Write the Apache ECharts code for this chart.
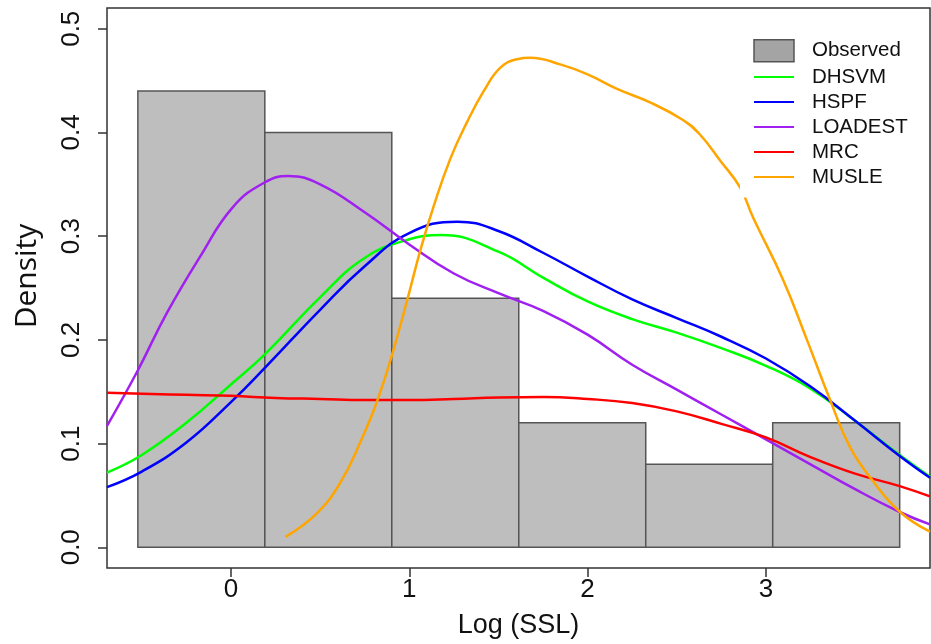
<!DOCTYPE html>
<html>
<head>
<meta charset="utf-8">
<script src="https://cdn.jsdelivr.net/npm/echarts@6/dist/echarts.min.js"></script>
<style>
  html, body { margin: 0; padding: 0; background: #fff; }
  #chart { width: 931px; height: 644px; }
</style>
</head>
<body>
<div id="chart"></div>
<script>
// histogram of observed log(SSL)
const binEdges = [-0.522, 0.19, 0.902, 1.614, 2.326, 3.038, 3.75];
const observed = [0.44, 0.40, 0.24, 0.12, 0.08, 0.12];

// density curves, [log SSL, density]
const dhsvm = [[-0.695,0.072],[-0.5,0.089],[-0.25,0.120],[0,0.157],[0.19,0.186],[0.5,0.241],[0.75,0.279],
  [1.0,0.297],[1.18,0.301],[1.5,0.285],[1.75,0.260],[2.0,0.237],[2.25,0.220],[2.5,0.207],[2.75,0.192],
  [3.0,0.175],[3.25,0.153],[3.5,0.122],[3.75,0.089],[3.92,0.068]];
const hspf = [[-0.695,0.058],[-0.5,0.073],[-0.25,0.101],[0,0.140],[0.19,0.173],[0.5,0.229],[0.75,0.271],
  [1.0,0.303],[1.27,0.314],[1.5,0.305],[1.75,0.284],[2.0,0.261],[2.25,0.239],[2.5,0.221],[2.75,0.203],
  [3.0,0.182],[3.25,0.155],[3.5,0.122],[3.75,0.088],[3.92,0.067]];
const loadest = [[-0.695,0.117],[-0.527,0.169],[-0.359,0.226],[-0.174,0.280],[0.011,0.328],[0.191,0.352],
  [0.32,0.358],[0.5,0.350],[0.75,0.323],[1.0,0.292],[1.25,0.264],[1.5,0.245],[1.75,0.228],[2.0,0.205],
  [2.25,0.176],[2.5,0.152],[2.75,0.128],[3.0,0.104],[3.25,0.080],[3.5,0.056],[3.75,0.034],[3.92,0.022]];
const mrc = [[-0.695,0.149],[-0.25,0.147],[0,0.146],[0.25,0.144],[0.5,0.143],[0.75,0.142],[1.0,0.142],
  [1.25,0.143],[1.5,0.1445],[1.75,0.145],[2.0,0.143],[2.25,0.139],[2.5,0.131],[2.75,0.119],[3.0,0.106],
  [3.25,0.087],[3.5,0.071],[3.75,0.059],[3.92,0.049]];
const musle = [[0.306,0.010],[0.483,0.033],[0.614,0.0625],[0.726,0.1015],[0.82,0.141],[0.904,0.186],[0.988,0.238],
  [1.063,0.287],[1.137,0.329],[1.231,0.375],[1.324,0.410],[1.418,0.440],[1.511,0.4625],[1.605,0.4706],
  [1.679,0.472],[1.847,0.4656],[2.0,0.456],[2.165,0.442],[2.35,0.429],[2.535,0.412],[2.63,0.398],[2.743,0.373],
  [2.855,0.347],[2.928,0.318],[3.096,0.258],[3.23,0.200],[3.36,0.142],[3.47,0.097],[3.595,0.065],
  [3.752,0.034],[3.92,0.015]];

const xTicks = [0, 1, 2, 3];
const yTicks = [0, 0.1, 0.2, 0.3, 0.4, 0.5];

const histData = observed.map((h, i) => [binEdges[i], binEdges[i + 1], h]);

function curve(name, data, color) {
  return {
    name: name,
    type: 'line',
    data: data,
    smooth: 0.45,
    showSymbol: false,
    symbol: 'none',
    lineStyle: { color: color, width: 2.5 },
    itemStyle: { color: color },
    z: 3
  };
}

// legend entry for a line: hide the marker, keep the stroke
const lineItem = name => ({ name: name, itemStyle: { color: 'transparent', borderWidth: 0, opacity: 0 } });

const chart = echarts.init(document.getElementById('chart'));
chart.setOption({
  animation: false,
  grid: {
    left: 107, right: 1, top: 8, bottom: 75,
    show: true, borderColor: '#333', borderWidth: 1.5, backgroundColor: 'transparent'
  },
  legend: {
    orient: 'vertical',
    left: 740, top: 29,
    padding: [10, 10, 10, 13],
    backgroundColor: '#fff',
    itemWidth: 40, itemHeight: 22, itemGap: 4,
    textStyle: { fontFamily: 'Liberation Sans', fontSize: 20.5, color: '#111', padding: [0, 0, 0, 13] },
    data: [
      { name: 'Observed', icon: 'rect', itemStyle: { color: '#a4a4a4', borderColor: '#555', borderWidth: 1.5 } },
      lineItem('DHSVM'), lineItem('HSPF'), lineItem('LOADEST'), lineItem('MRC'), lineItem('MUSLE')
    ]
  },
  graphic: [{
    type: 'text',
    x: 27, y: 276,
    rotation: Math.PI / 2,
    style: {
      text: 'Density', align: 'center', verticalAlign: 'middle',
      fontFamily: 'Open Sans', fontSize: 30, fill: '#111'
    }
  }],
  xAxis: {
    type: 'value',
    min: -0.695, max: 3.92,
    name: 'Log (SSL)',
    nameLocation: 'middle',
    nameGap: 44,
    nameTextStyle: { fontFamily: 'Liberation Sans', fontSize: 27, color: '#111' },
    splitLine: { show: false },
    axisLine: { show: false, onZero: false },
    axisTick: { show: true, customValues: xTicks, length: 9, lineStyle: { color: '#333', width: 1.5 } },
    axisLabel: {
      customValues: xTicks, margin: 9,
      fontFamily: 'Liberation Sans', fontSize: 26, color: '#111'
    }
  },
  yAxis: {
    type: 'value',
    min: -0.02, max: 0.52,
    splitLine: { show: false },
    axisLine: { show: false, onZero: false },
    axisTick: { show: true, customValues: yTicks, length: 9, lineStyle: { color: '#333', width: 1.5 } },
    axisLabel: {
      customValues: yTicks, margin: 22, rotate: 90,
      formatter: v => v.toFixed(1),
      fontFamily: 'Liberation Sans', fontSize: 26, color: '#111'
    }
  },
  series: [
    {
      name: 'Observed',
      type: 'custom',
      data: histData,
      z: 1,
      renderItem: function (params, api) {
        const p0 = api.coord([api.value(0), api.value(2)]);
        const p1 = api.coord([api.value(1), 0]);
        return {
          type: 'rect',
          shape: { x: p0[0], y: p0[1], width: p1[0] - p0[0], height: p1[1] - p0[1] },
          style: { fill: '#bebebe', stroke: '#555', lineWidth: 1.5 }
        };
      }
    },
    curve('DHSVM', dhsvm, '#00ff00'),
    curve('HSPF', hspf, '#0000ff'),
    curve('LOADEST', loadest, '#a020f0'),
    curve('MRC', mrc, '#ff0000'),
    curve('MUSLE', musle, '#ffa500')
  ]
});
</script>
</body>
</html>
